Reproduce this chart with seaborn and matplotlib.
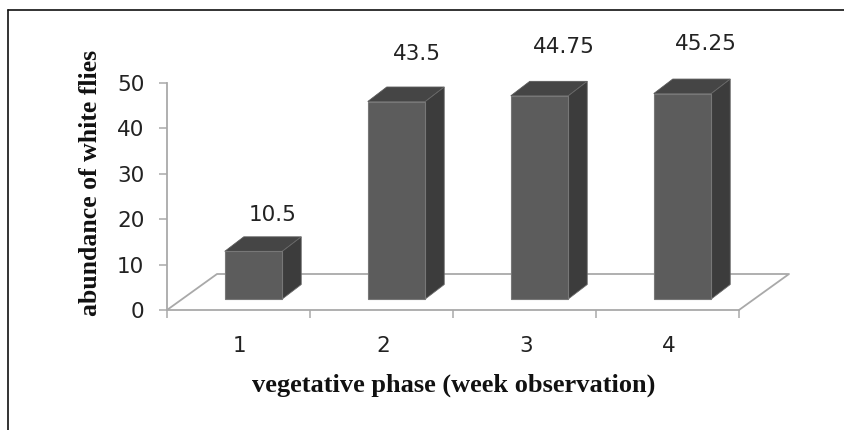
import matplotlib
matplotlib.use("Agg")
import matplotlib.pyplot as plt
from matplotlib.lines import Line2D
from matplotlib.patches import Polygon
import pandas as pd
import seaborn as sns

weeks = ["1", "2", "3", "4"]
abundance = [10.5, 43.5, 44.75, 45.25]
y_ticks = [0, 10, 20, 30, 40, 50]

# Label offsets from the top centre of each front face, in points
label_dx = [14, 15, 17.5, 16.5]
label_dy = [26, 34, 35.5, 36]

sns.set_style("white")
plt.rcParams["font.family"] = ["DejaVu Sans"]

W, H = 845, 430
AX_L, AX_R, AX_B, AX_T = 167, 739, 310, 83
fig = plt.figure(figsize=(W / 100, H / 100), dpi=100, facecolor="white")
ax = fig.add_axes([AX_L / W, 1 - AX_B / H, (AX_R - AX_L) / W, (AX_B - AX_T) / H])

df = pd.DataFrame({"week": weeks, "abundance": abundance})
sns.barplot(data=df, x="week", y="abundance", ax=ax, color="#5c5c5c", saturation=1,
            width=0.402, errorbar=None, edgecolor="#777777", linewidth=0.8,
            zorder=3, clip_on=False)
ax.set_xlim(-0.5, 3.5)
ax.set_ylim(0, 50)

# Scale factors between data units and pixels
px_x = 4 / (AX_R - AX_L)
px_y = 50 / (AX_B - AX_T)

# Pseudo-3D floor behind the columns
floor_dx, floor_dy = 50 * px_x, 36 * px_y
floor_color = "#a9a9a9"
ax.plot([-0.5, -0.5 + floor_dx, 3.5 + floor_dx, 3.5], [0, floor_dy, floor_dy, 0],
        color=floor_color, lw=1.3, clip_on=False, zorder=1)

# Columns stand on the floor, so the front faces move inward and get a top and side
shift_x, base = 15 * px_x, 11 * px_y
depth_x, depth_y = 19 * px_x, 14.5 * px_y
for patch, value, dx, dy in zip(ax.patches, abundance, label_dx, label_dy):
    patch.set_x(patch.get_x() + shift_x)
    patch.set_y(base)
    x0, x1 = patch.get_x(), patch.get_x() + patch.get_width()
    top = base + value
    ax.add_patch(Polygon([(x0, top), (x1, top), (x1 + depth_x, top + depth_y),
                          (x0 + depth_x, top + depth_y)],
                         facecolor="#454545", edgecolor="#5a5a5a", lw=0.6,
                         clip_on=False, zorder=2))
    ax.add_patch(Polygon([(x1, base), (x1, top), (x1 + depth_x, top + depth_y),
                          (x1 + depth_x, base + depth_y)],
                         facecolor="#3c3c3c", edgecolor="#6a6a6a", lw=0.6,
                         clip_on=False, zorder=2))
    ax.annotate(str(value), xy=((x0 + x1) / 2, top), xytext=(dx, dy),
                textcoords="offset points", ha="center", va="center",
                fontsize=15.5, color="#222222", annotation_clip=False)

sns.despine(ax=ax)
for side in ("left", "bottom"):
    ax.spines[side].set_color(floor_color)
    ax.spines[side].set_linewidth(1.3)

ax.set_yticks(y_ticks)
ax.set_xticks([-0.5, 0.5, 1.5, 2.5, 3.5], minor=False)
ax.set_xticklabels([])
ax.tick_params(axis="both", which="major", length=5.8, width=1.1, color=floor_color,
               left=True, bottom=True, labelsize=15.5, labelcolor="#222222")
ax.tick_params(axis="y", pad=10.5)
for i, week in enumerate(weeks):
    ax.annotate(week, xy=(i, 0), xytext=(1, -26), textcoords="offset points",
                ha="center", va="center", fontsize=15.5, color="#222222",
                annotation_clip=False)

ax.set_xlabel("")
ax.set_ylabel("")
serif = dict(family="Liberation Serif", fontweight="bold", color="#111111")
fig.text(453.5 / W, 1 - 385 / H, "vegetative phase (week observation)",
         ha="center", va="center", fontsize=19, **serif)
fig.text(91 / W, 1 - 183 / H, "abundance of white flies", rotation=90,
         ha="center", va="center", fontsize=18.5, **serif)

# Frame rules along the top and left of the figure
fig.add_artist(Line2D([8 / W, 8 / W], [0, 1 - 9.5 / H], color="#111111", lw=1.2))
fig.add_artist(Line2D([8 / W, 1], [1 - 9.5 / H, 1 - 9.5 / H], color="#111111", lw=1.2))

fig.savefig("out.png", dpi=100, facecolor="white")
